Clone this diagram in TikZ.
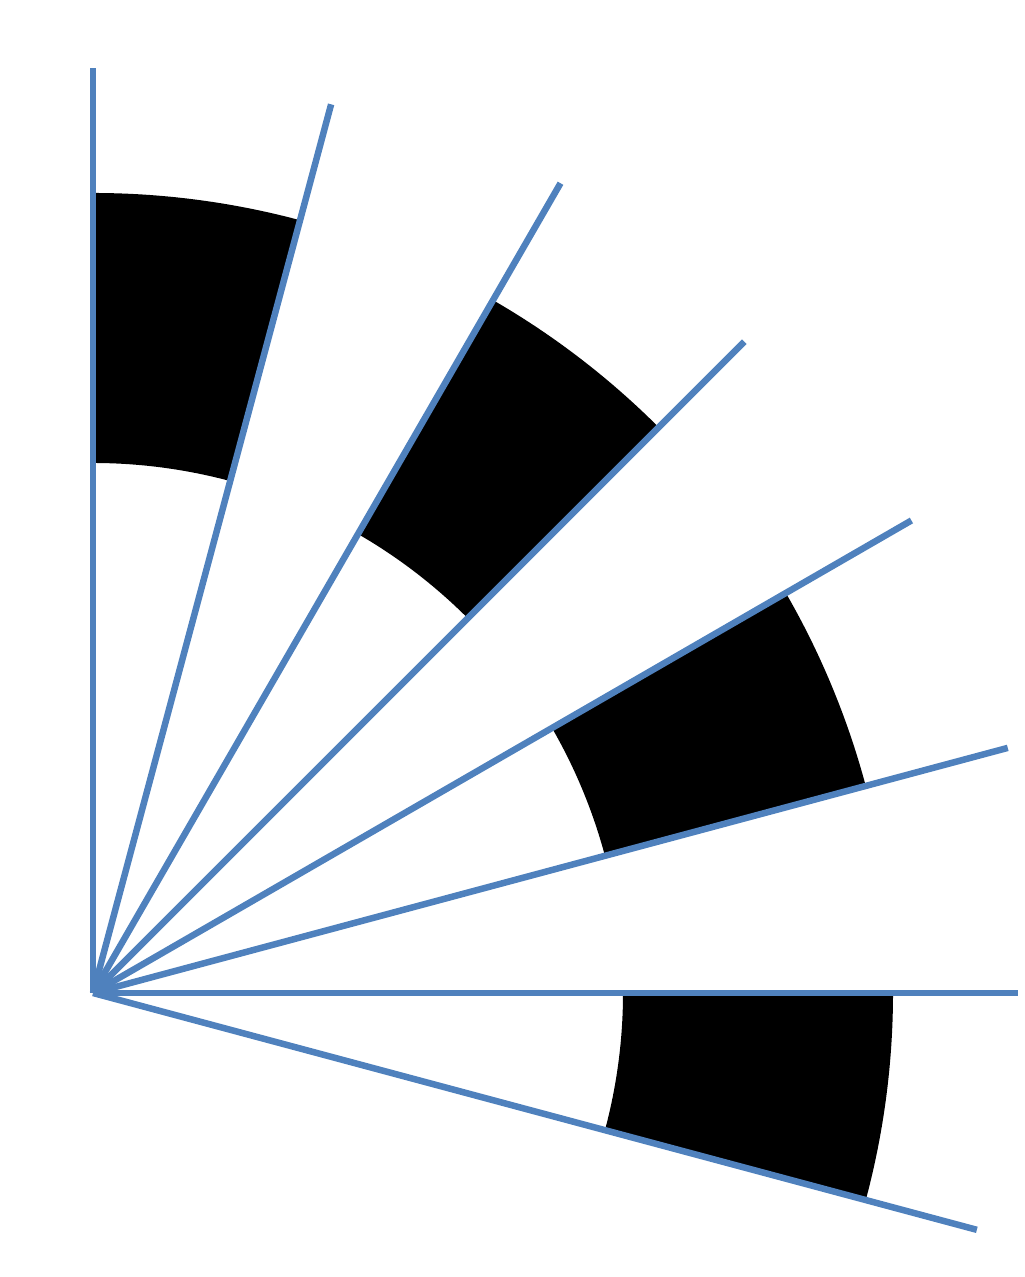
\documentclass[tikz,border=0pt]{standalone}
\usepackage{tikz}
\definecolor{raycolor}{RGB}{79,129,189}
\tikzstyle{ray}=[draw=raycolor,line width=1.85pt]
\tikzstyle{band}=[fill=black]

\begin{document}
\begin{tikzpicture}
  \useasboundingbox (-0.93,-2.84) rectangle (9.31,9.93);
  \coordinate (o) at (0,0);

  % black bands between pairs of rays
  \foreach \a in {75,45,15,-15}
    \fill[band] (\a:5.3) arc[start angle=\a,end angle=\a+15,radius=5.3]
      -- (\a+15:8.0) arc[start angle=\a+15,end angle=\a,radius=8.0] -- cycle;

  % rays
  \foreach \a/\l in {90/9.25,75/9.20,60/9.35,45/9.21,30/9.45,15/9.47,0/9.25,-15/9.15}
    \coordinate (r\a) at (\a:\l);
  \foreach \a in {90,75,60,45,30,15,0,-15}
    \draw[ray] (o) -- (r\a);
\end{tikzpicture}
\end{document}
